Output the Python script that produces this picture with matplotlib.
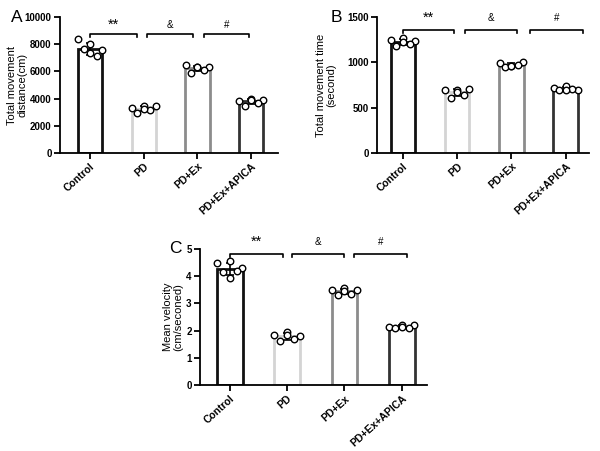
import matplotlib
matplotlib.use('Agg')
import matplotlib.pyplot as plt
import numpy as np

plt.rcParams['font.family'] = ['Liberation Sans', 'DejaVu Sans']

groups = ['Control', 'PD', 'PD+Ex', 'PD+Ex+APICA']
edge_colors = ['#111111', '#d4d4d4', '#8c8c8c', '#333333']

# panel A - total movement distance (cm)
distance = [
    [8380, 8000, 7560, 7640, 7140, 7340],
    [3280, 3450, 3450, 2910, 3150, 3250],
    [6450, 6300, 6350, 5900, 6100, 6300],
    [3850, 4000, 3900, 3450, 3700, 3900],
]
# panel B - total movement time (second)
move_time = [
    [1250, 1270, 1240, 1180, 1200, 1230],
    [700, 690, 710, 610, 640, 670],
    [990, 960, 1000, 950, 970, 960],
    [720, 740, 700, 690, 710, 700],
]
# panel C - mean velocity (cm/seconed)
velocity = [
    [4.50, 4.55, 4.30, 4.15, 4.20, 3.95],
    [1.85, 1.95, 1.80, 1.60, 1.70, 1.85],
    [3.50, 3.55, 3.50, 3.30, 3.35, 3.45],
    [2.15, 2.20, 2.20, 2.10, 2.10, 2.15],
]
sig_labels = ['**', '&', '#']

jitter = [-0.22, 0.0, 0.22, -0.12, 0.12, 0.0]


def panel(ax, data, ylim, yticks, ylabel, label_x, letter, letter_x, brackets, bracket_y, hook, text_y, xlim):
    x = np.arange(len(groups))
    means = [np.mean(d) for d in data]
    sds = [np.std(d, ddof=1) for d in data]
    ax.bar(x, means, width=0.45, color='white', edgecolor=edge_colors, linewidth=2, zorder=1)
    for i, d in enumerate(data):
        ax.errorbar(x[i], means[i], yerr=sds[i], color='black', capsize=3, elinewidth=1.2,
                    capthick=1.2, zorder=2)
        ax.scatter(x[i] + np.array(jitter), d, s=22, facecolor='white', edgecolor='black',
                   linewidth=1, zorder=3)
    for (x0, x1), lab in zip(brackets, sig_labels):
        ax.plot([x0, x0, x1, x1], [bracket_y - hook, bracket_y, bracket_y, bracket_y - hook],
                color='black', lw=1.2, clip_on=False)
        fs = 10.5 if lab == '**' else 7
        ax.text((x0 + x1) / 2, text_y, lab, ha='center', va='center', fontsize=fs)
    ax.set_ylim(*ylim)
    ax.set_xlim(*xlim)
    ax.set_yticks(yticks)
    ax.set_xticks(x)
    ax.set_xticklabels(groups, rotation=42, ha='right', rotation_mode='anchor',
                       fontsize=7.5, fontweight='bold')
    for t in ax.get_yticklabels():
        t.set_fontweight('bold')
        t.set_fontsize(7)
    ax.set_ylabel(ylabel, fontsize=8, linespacing=1.05)
    ax.yaxis.set_label_coords(label_x, 0.5)
    ax.spines['top'].set_visible(False)
    ax.spines['right'].set_visible(False)
    ax.spines['left'].set_linewidth(1.3)
    ax.spines['bottom'].set_linewidth(1.3)
    ax.tick_params(width=1.3, length=4, pad=2)
    ax.text(letter_x, 1.0, letter, transform=ax.transAxes, fontsize=12.5, va='center', ha='center')


fig = plt.figure(figsize=(6, 4.51), dpi=100)
axA = fig.add_axes([0.1, 0.6614, 0.3633, 0.3002])
axB = fig.add_axes([0.6283, 0.6614, 0.3533, 0.3002])
axC = fig.add_axes([0.3333, 0.1463, 0.3783, 0.3016])

panel(axA, distance, (0, 10000), [0, 2000, 4000, 6000, 8000, 10000],
      'Total movement\ndistance(cm)', -0.15, 'A', -0.197,
      [(0.0, 0.87), (1.06, 1.92), (2.12, 2.96)], 8750, 200, 9450, (-0.56, 3.5))
panel(axB, move_time, (0, 1500), [0, 500, 1000, 1500],
      'Total movement time\n(second)', -0.19, 'B', -0.19,
      [(0.0, 0.94), (1.15, 2.1), (2.35, 3.32)], 1360, 30, 1490, (-0.48, 3.43))
panel(axC, velocity, (0, 5), [0, 1, 2, 3, 4, 5],
      'Mean velocity\n(cm/seconed)', -0.075, 'C', -0.11,
      [(0.0, 0.93), (1.09, 2.0), (2.16, 3.1)], 4.82, 0.1, 5.25, (-0.52, 3.44))

fig.savefig('out.png', dpi=100)
